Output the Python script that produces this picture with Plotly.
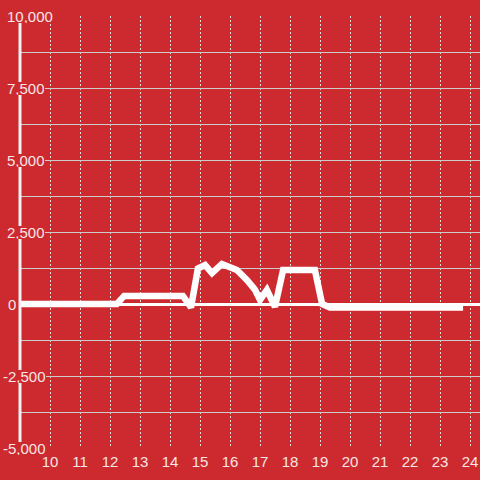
import plotly.graph_objects as go

# ---- data ----
hours = [9.0, 12.23, 12.47, 14.43, 14.7, 14.93, 15.17, 15.4, 15.73, 16.0, 16.23,
         16.57, 16.83, 17.0, 17.23, 17.5, 17.77, 18.83, 19.07, 19.33, 23.77]
values = [0, 0, 280, 280, -120, 1230, 1350, 1075, 1390, 1250, 1180,
          830, 500, 140, 485, -100, 1180, 1180, 0, -120, -120]
x_ticks = list(range(10, 25))
y_tick_vals = [10000, 7500, 5000, 2500, 0, -2500, -5000]
y_tick_text = ["10,000", "7,500", "5,000", "2,500", "0", "-2,500", "-5,000"]

BG = "#cd2a2f"
FONT = "Liberation Sans, Arial, sans-serif"
LABEL_COLOR = "#f6e6e6"

fig = go.Figure()
fig.add_trace(go.Scatter(
    x=hours, y=values, mode="lines",
    line=dict(color="white", width=6.5),
    hoverinfo="skip", showlegend=False,
))

# y-axis line (drawn as shape so that label boxes can cut it)
fig.add_shape(type="line", xref="paper", yref="paper", x0=0, x1=0, y0=0, y1=1,
              line=dict(color="#f2f2f2", width=3), layer="above")

annotations = []
for v, t in zip(y_tick_vals, y_tick_text):
    if t == "0":
        shift = -12
    elif t.startswith("-"):
        shift = -17
    else:
        shift = -13
    annotations.append(dict(
        x=0, xref="paper", y=v, yref="y", text=t, showarrow=False,
        xanchor="left", yanchor="middle", xshift=shift, yshift=0,
        bgcolor=BG if t != "0" else "rgba(0,0,0,0)", borderpad=0, borderwidth=0,
        height=13,
        font=dict(family=FONT, size=15, color=LABEL_COLOR),
    ))

fig.update_layout(
    width=480, height=480,
    margin=dict(l=20, r=0, t=16, b=32, autoexpand=False),
    paper_bgcolor=BG, plot_bgcolor=BG,
    font=dict(family=FONT, size=15, color=LABEL_COLOR),
    xaxis=dict(
        range=[9, 9 + 460 / 30], tickvals=x_ticks, ticktext=[str(v) for v in x_ticks],
        showgrid=True, gridcolor="#dddddd", gridwidth=1, griddash="2px,2px",
        zeroline=False, showline=False, ticks="", ticklabelstandoff=3,
        tickfont=dict(family=FONT, size=15, color=LABEL_COLOR),
    ),
    yaxis=dict(
        range=[-5000, 10000], dtick=1250, tick0=0,
        showgrid=True, gridcolor="#cccccc", gridwidth=1,
        zeroline=True, zerolinecolor="white", zerolinewidth=3,
        showticklabels=False, ticks="", showline=False,
    ),
    annotations=annotations,
)

fig.write_html("out.html", config={"displayModeBar": False},
               post_script="document.body.style.margin='0';")
